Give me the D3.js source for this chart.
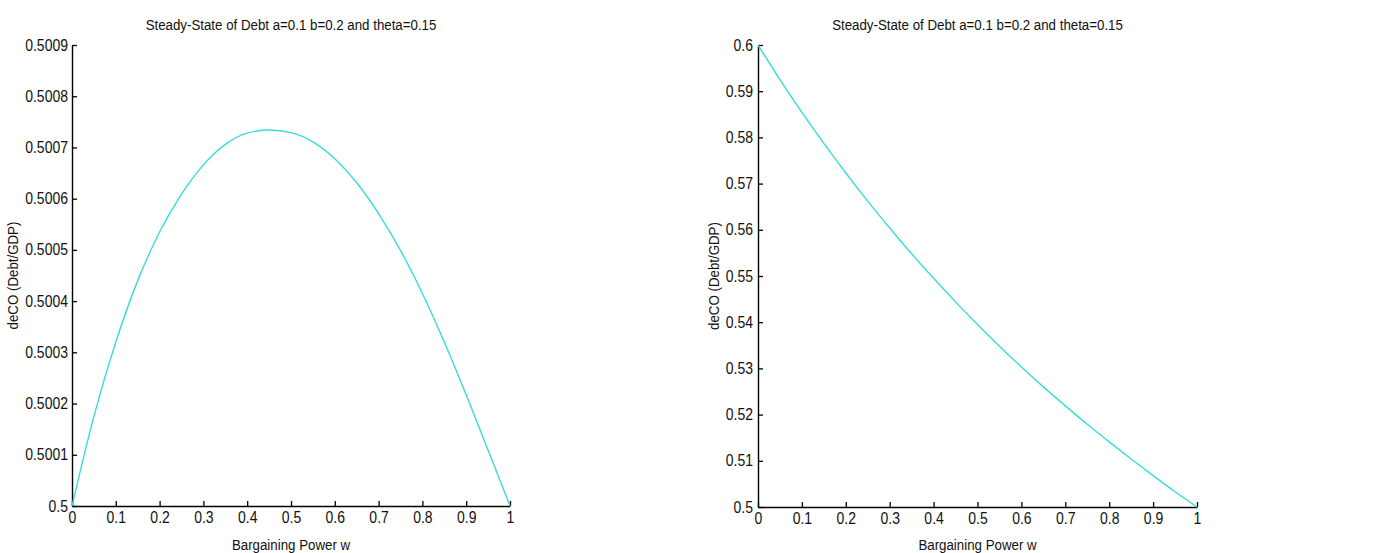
<!DOCTYPE html>
<html>
<head>
<meta charset="utf-8">
<script src="https://cdn.jsdelivr.net/npm/d3@7"></script>
<style>
  html, body { margin: 0; padding: 0; background: #fff; }
  svg { display: block; }
  text { font-family: Arial, "Liberation Sans", Helvetica, sans-serif; fill: #111; }
</style>
</head>
<body>
<svg id="fig" width="1376" height="553"></svg>
<script>
// Bargaining power grid shared by both panels
const bargainingPower = [0, 0.05, 0.1, 0.15, 0.2, 0.25, 0.3, 0.35, 0.4, 0.45, 0.5,
                         0.55, 0.6, 0.65, 0.7, 0.75, 0.8, 0.85, 0.9, 0.95, 1];

// Steady-state debt ratio, left panel
const debtLeft = [0.5, 0.500175, 0.50032, 0.50044, 0.500535, 0.500609, 0.500666,
                  0.500706, 0.500728, 0.500734, 0.500729, 0.500711, 0.500678,
                  0.500631, 0.500571, 0.500499, 0.500415, 0.50032, 0.500217,
                  0.500109, 0.5];

// Steady-state debt ratio, right panel
const debtRight = [0.6, 0.5925, 0.5854, 0.5787, 0.5723, 0.5662, 0.5604, 0.5548,
                   0.5495, 0.5444, 0.5395, 0.5348, 0.5303, 0.526, 0.5219, 0.5179,
                   0.5141, 0.5104, 0.5068, 0.5033, 0.5];

const xTickLabels = ["0", "0.1", "0.2", "0.3", "0.4", "0.5", "0.6", "0.7", "0.8", "0.9", "1"];
const yTickLabelsLeft = ["0.5", "0.5001", "0.5002", "0.5003", "0.5004", "0.5005",
                         "0.5006", "0.5007", "0.5008", "0.5009"];
const yTickLabelsRight = ["0.5", "0.51", "0.52", "0.53", "0.54", "0.55",
                          "0.56", "0.57", "0.58", "0.59", "0.6"];

const titleText = "Steady-State of Debt a=0.1 b=0.2 and theta=0.15";
const xLabelText = "Bargaining Power w";
const yLabelText = "deCO (Debt/GDP)";

// glyphs in this figure are slightly taller than plain Arial
const STRETCH = 1.12;

const svg = d3.select("#fig");

function drawPanel(opts) {
  const { left, right, top, bottom, yDomain, yLabels, values, yLabelX, yPad } = opts;
  const g = svg.append("g");

  const x = d3.scaleLinear().domain([0, 1]).range([left, right]);
  const y = d3.scaleLinear().domain(yDomain).range([bottom, top]);

  const xTickVals = xTickLabels.map(Number);
  const yTickVals = yLabels.map(Number);

  // x axis, ticks pointing into the plot
  const xAxis = d3.axisBottom(x)
    .tickValues(xTickVals)
    .tickFormat((d, i) => xTickLabels[i])
    .tickSizeInner(-5)
    .tickSizeOuter(0)
    .tickPadding(5);
  const gx = g.append("g").attr("transform", `translate(0,${bottom})`).call(xAxis);

  // y axis, ticks pointing into the plot
  const yAxis = d3.axisLeft(y)
    .tickValues(yTickVals)
    .tickFormat((d, i) => yLabels[i])
    .tickSizeInner(-5)
    .tickSizeOuter(0)
    .tickPadding(yPad);
  const gy = g.append("g").attr("transform", `translate(${left},0)`).call(yAxis);

  [gx, gy].forEach(a => {
    a.select(".domain").attr("stroke", "#000").attr("stroke-width", 1.4);
    a.selectAll(".tick line").attr("stroke", "#000").attr("stroke-width", 1.3);
    a.selectAll(".tick text")
      .style("font-family", "Arial, 'Liberation Sans', sans-serif")
      .style("font-size", "14px")
      .attr("fill", "#1a1a1a")
      .attr("transform", `scale(1,${STRETCH})`);
  });

  // curve
  const line = d3.line()
    .x((d, i) => x(bargainingPower[i]))
    .y(d => y(d))
    .curve(d3.curveMonotoneX);
  g.append("path")
    .datum(values)
    .attr("d", line)
    .attr("fill", "none")
    .attr("stroke", "#38dcdc")
    .attr("stroke-width", 1.4);

  // title
  g.append("text")
    .attr("transform", `translate(${(left + right) / 2},30) scale(1,${STRETCH})`)
    .attr("text-anchor", "middle")
    .style("font-size", "13.3px")
    .text(titleText);

  // x label
  g.append("text")
    .attr("transform", `translate(${(left + right) / 2},550) scale(1,${STRETCH})`)
    .attr("text-anchor", "middle")
    .style("font-size", "13.3px")
    .text(xLabelText);

  // y label
  g.append("text")
    .attr("transform", `translate(${yLabelX},${(top + bottom) / 2}) rotate(-90) scale(1,${STRETCH})`)
    .attr("text-anchor", "middle")
    .style("font-size", "13.3px")
    .text(yLabelText);
}

drawPanel({
  left: 72, right: 510, top: 45, bottom: 506,
  yDomain: [0.5, 0.5009], yLabels: yTickLabelsLeft, values: debtLeft,
  yLabelX: 18, yPad: 4
});

drawPanel({
  left: 758, right: 1197, top: 45, bottom: 507,
  yDomain: [0.5, 0.6], yLabels: yTickLabelsRight, values: debtRight,
  yLabelX: 719, yPad: 5
});
</script>
</body>
</html>
